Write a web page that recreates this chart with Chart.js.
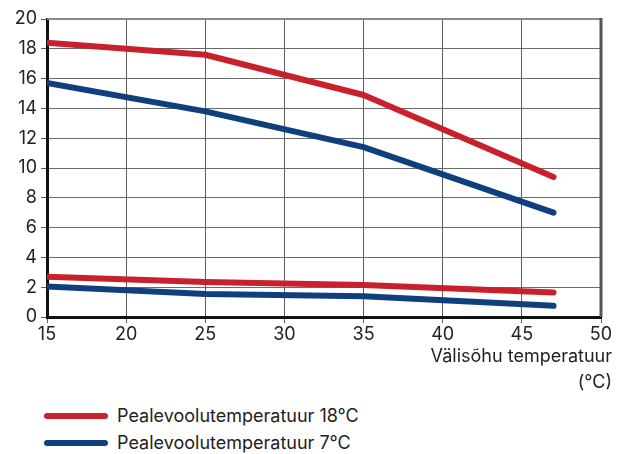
<!DOCTYPE html>
<html>
<head>
<meta charset="utf-8">
<script src="https://cdn.jsdelivr.net/npm/chart.js"></script>
<style>
  body { margin: 0; background: #fff; font-family: Inter, sans-serif; }
  #wrap { position: relative; width: 617px; height: 454px; }
  #box { position: absolute; left: 0; top: 0; width: 617px; height: 400px; }
  #legend { position: absolute; left: 44px; top: 402px; }
  .item { display: flex; align-items: center; height: 27px; font-size: 18px; color: #222; }
  .swatch { width: 64px; height: 6px; border-radius: 3px; margin-right: 9px; }
</style>
</head>
<body>
<div id="wrap">
  <div id="box"><canvas id="chart"></canvas></div>
  <div id="legend"></div>
</div>
<script>
// outdoor temperature (x)
const outdoorTemps = [15, 25, 35, 47];

// series values
const red18High = [18.4, 17.6, 14.9, 9.4];
const blue7High = [15.7, 13.8, 11.4, 7.0];
const red18Low = [2.7, 2.35, 2.15, 1.65];
const blue7Low = [2.05, 1.55, 1.4, 0.75];

const legendLabels = ['Pealevoolutemperatuur 18°C', 'Pealevoolutemperatuur 7°C'];
const xTitle = ['Välisõhu temperatuur', '(°C)'];

const RED = '#c8202c';
const BLUE = '#103f7e';

function pts(ys) {
    return outdoorTemps.map((x, i) => ({ x: x, y: ys[i] }));
}

function line(ys, color) {
    return {
        data: pts(ys),
        borderColor: color,
        borderWidth: 6,
        borderCapStyle: 'round',
        borderJoinStyle: 'round',
        pointRadius: 0,
        fill: false,
        tension: 0
    };
}

// top and right frame lines + the two-line axis title
const framePlugin = {
    id: 'frame',
    beforeDatasetsDraw(chart) {
        const a = chart.chartArea;
        const c = chart.ctx;
        c.save();
        c.strokeStyle = '#8a8a8a';
        c.lineWidth = 2;
        c.beginPath();
        c.moveTo(a.left, a.top);
        c.lineTo(a.right, a.top);
        c.stroke();
        c.strokeStyle = '#555';
        c.lineWidth = 3;
        c.beginPath();
        c.moveTo(a.right, a.top - 1);
        c.lineTo(a.right, a.bottom);
        c.stroke();
        c.restore();
    },
    afterDraw(chart) {
        const c = chart.ctx;
        c.save();
        c.fillStyle = '#222';
        c.font = '18px Inter, sans-serif';
        c.textAlign = 'right';
        c.textBaseline = 'middle';
        c.fillText(xTitle[0], 612, 357);
        c.fillText(xTitle[1], 612, 383);
        c.restore();
    }
};

const ctx = document.getElementById('chart').getContext('2d');
new Chart(ctx, {
    type: 'line',
    data: {
        datasets: [
            line(red18High, RED),
            line(blue7High, BLUE),
            line(red18Low, RED),
            line(blue7Low, BLUE)
        ]
    },
    options: {
        responsive: true,
        maintainAspectRatio: false,
        animation: false,
        layout: { padding: { top: 19, right: 16, left: 0, bottom: 0 } },
        plugins: {
            legend: { display: false },
            tooltip: { enabled: false }
        },
        scales: {
            x: {
                type: 'linear',
                min: 15,
                max: 50,
                afterFit(s) { s.height = 83; },
                ticks: {
                    stepSize: 5,
                    padding: 1,
                    color: '#222',
                    font: { family: 'Inter', size: 18 }
                },
                grid: { color: '#5e5e5e', lineWidth: 1, tickLength: 6, tickColor: '#5e5e5e' },
                border: { color: '#111', width: 3 }
            },
            y: {
                min: 0,
                max: 20,
                afterFit(s) { s.width = 47; },
                ticks: {
                    stepSize: 2,
                    padding: 4,
                    color: '#222',
                    font: { family: 'Inter', size: 18 }
                },
                grid: { color: '#6a6a6a', lineWidth: 1, tickLength: 6, tickColor: '#5e5e5e' },
                border: { color: '#111', width: 3 }
            }
        }
    },
    plugins: [framePlugin]
});

// legend below the chart
const legendColors = [RED, BLUE];
const legendEl = document.getElementById('legend');
legendLabels.forEach((txt, i) => {
    const row = document.createElement('div');
    row.className = 'item';
    const sw = document.createElement('span');
    sw.className = 'swatch';
    sw.style.background = legendColors[i];
    const label = document.createElement('span');
    label.textContent = txt;
    row.appendChild(sw);
    row.appendChild(label);
    legendEl.appendChild(row);
});
</script>
</body>
</html>
